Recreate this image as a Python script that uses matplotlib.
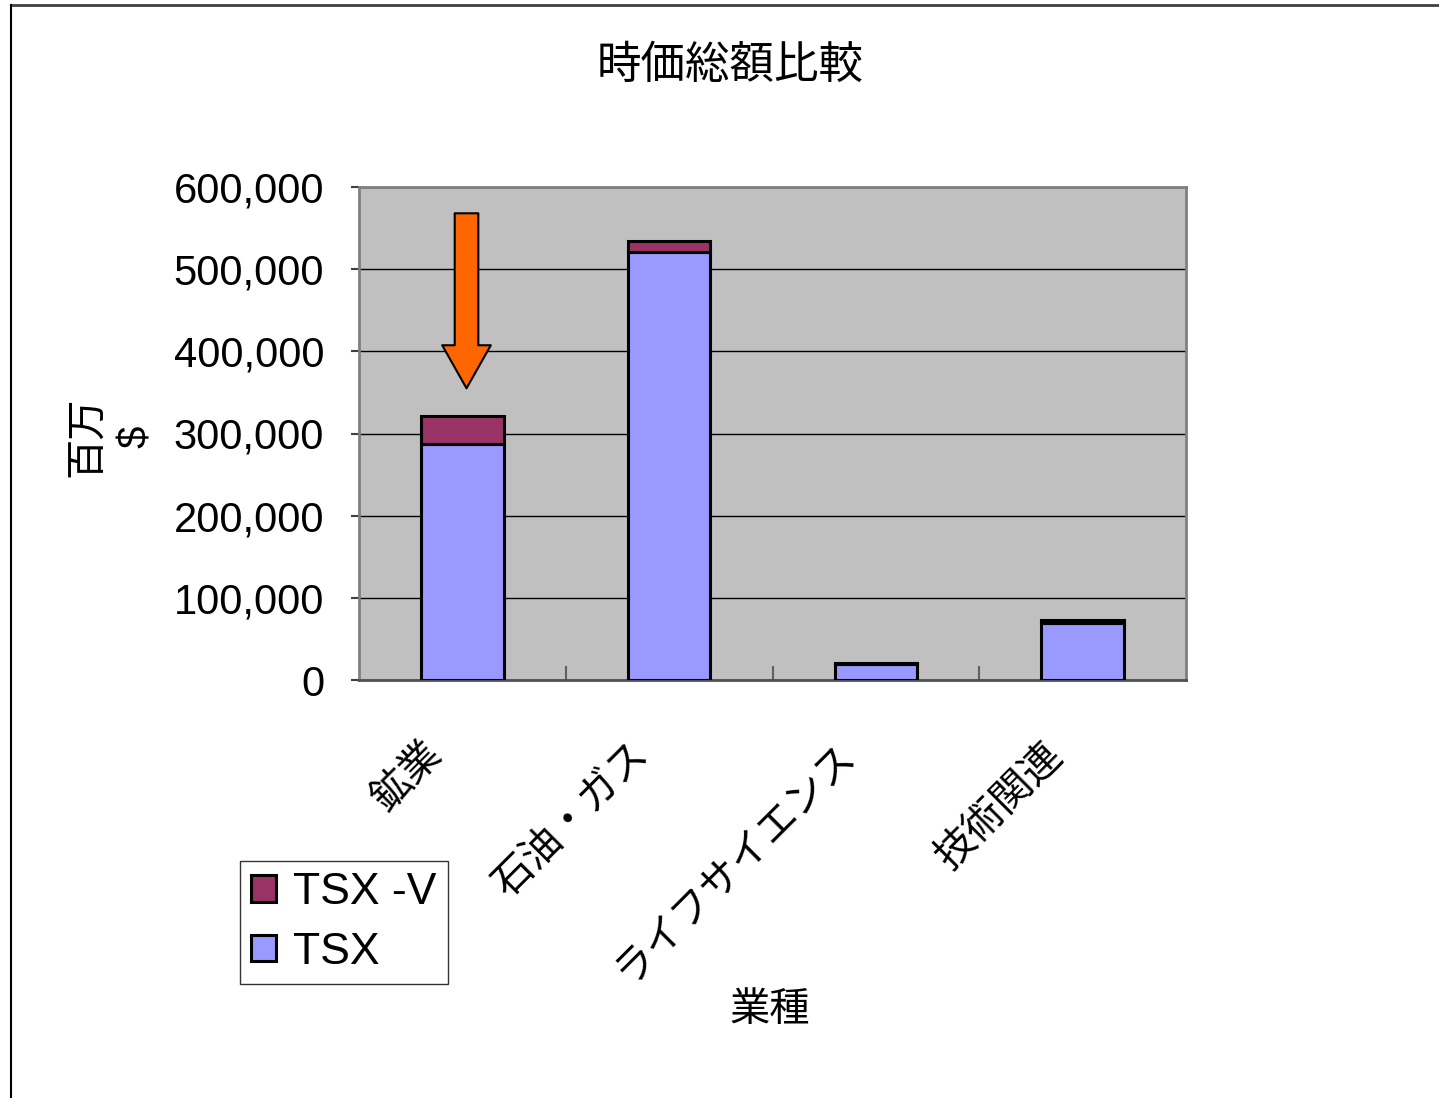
import numpy as np
import matplotlib
matplotlib.use("Agg")
import matplotlib.pyplot as plt
import matplotlib.transforms as mtransforms
from matplotlib.lines import Line2D
from matplotlib.patches import Patch

plt.rcParams['font.family'] = ['Liberation Sans', 'Noto Sans CJK JP', 'DejaVu Sans']

### data ###
categories = ["鉱業", "石油・ガス", "ライフサイエンス", "技術関連"]
tsx = [287000, 521000, 19000, 69500]
tsx_v = [34000, 13000, 1500, 4000]
y_ticks = [0, 100000, 200000, 300000, 400000, 500000, 600000]

# arrow (annotation) in data units
arrow_x = 0.02
arrow_top = 568000
arrow_tip = 355000

c_tsx = "#9999FF"
c_tsxv = "#993366"

W, H = 1439, 1098
fig = plt.figure(figsize=(W / 100, H / 100), dpi=100)
ax = fig.add_axes([359 / W, 1 - 680 / H, (1186 - 359) / W, (680 - 187) / H])
ax.set_facecolor("#C0C0C0")

x = np.arange(len(categories))
ax.bar(x, tsx, width=0.4, color=c_tsx, edgecolor="black", linewidth=2.2, zorder=3)
ax.bar(x, tsx_v, width=0.4, bottom=tsx, color=c_tsxv, edgecolor="black", linewidth=2.2, zorder=3)

ax.set_xlim(-0.5, len(categories) - 0.5)
ax.set_ylim(0, 600000)
ax.set_yticks(y_ticks)
ax.set_yticklabels([f"{v:,}" for v in y_ticks], fontsize=30)
ax.yaxis.grid(True, color="black", linewidth=1, zorder=1)
ax.set_axisbelow(True)
ax.tick_params(axis="y", direction="out", length=6, width=1.5, color="#404040", pad=19)

ax.set_xticks(x)
ax.set_xticklabels(categories, rotation=45, ha="right", rotation_mode="anchor", fontsize=29)
ax.tick_params(axis="x", which="major", length=0, pad=40)
shift = mtransforms.ScaledTranslation(-40 / 100, 0, fig.dpi_scale_trans)
for lab in ax.get_xticklabels():
    lab.set_transform(lab.get_transform() + shift)
ax.set_xticks(np.arange(0.5, len(categories) - 0.5), minor=True)
ax.tick_params(axis="x", which="minor", direction="in", length=10, width=1.5, color="#606060")

for s in ["top", "right", "left"]:
    ax.spines[s].set_color("#808080")
    ax.spines[s].set_linewidth(2)
ax.spines["bottom"].set_color("#505050")
ax.spines["bottom"].set_linewidth(2)

# arrow
ax.annotate("", xy=(arrow_x, arrow_tip), xytext=(arrow_x, arrow_top),
            arrowprops=dict(width=17, headwidth=35, headlength=31, shrink=0,
                            facecolor="#FF6600", edgecolor="black", linewidth=1.5),
            zorder=5)

fig.text(730 / W, 1 - 66 / H, "時価総額比較", fontsize=32, ha="center", va="center")
fig.text(770 / W, 1 - 1010 / H, "業種", fontsize=29, ha="center", va="center")
fig.text(112 / W, 1 - 437 / H, "百万\n$", fontsize=29, rotation=90, ha="center", va="center",
         multialignment="center", linespacing=1.35)

handles = [Patch(facecolor=c_tsxv, edgecolor="black", linewidth=2.2, label="TSX -V"),
           Patch(facecolor=c_tsx, edgecolor="black", linewidth=2.2, label="TSX")]
leg = fig.legend(handles=handles, loc="upper left", bbox_to_anchor=(240 / W, 1 - 861 / H),
                 bbox_transform=fig.transFigure, fontsize=32, frameon=True, fancybox=False,
                 borderaxespad=0, handlelength=0.55, handleheight=0.55, handletextpad=0.4,
                 borderpad=0.25, labelspacing=0.42)
leg.get_frame().set_edgecolor("black")
leg.get_frame().set_linewidth(1)

# outer frame lines
fig.add_artist(Line2D([11 / W, 1], [1 - 5 / H, 1 - 5 / H], color="#404040", linewidth=2, transform=fig.transFigure))
fig.add_artist(Line2D([11 / W, 11 / W], [0, 1 - 5 / H], color="black", linewidth=1.5, transform=fig.transFigure))

fig.savefig("out.png", dpi=100)
